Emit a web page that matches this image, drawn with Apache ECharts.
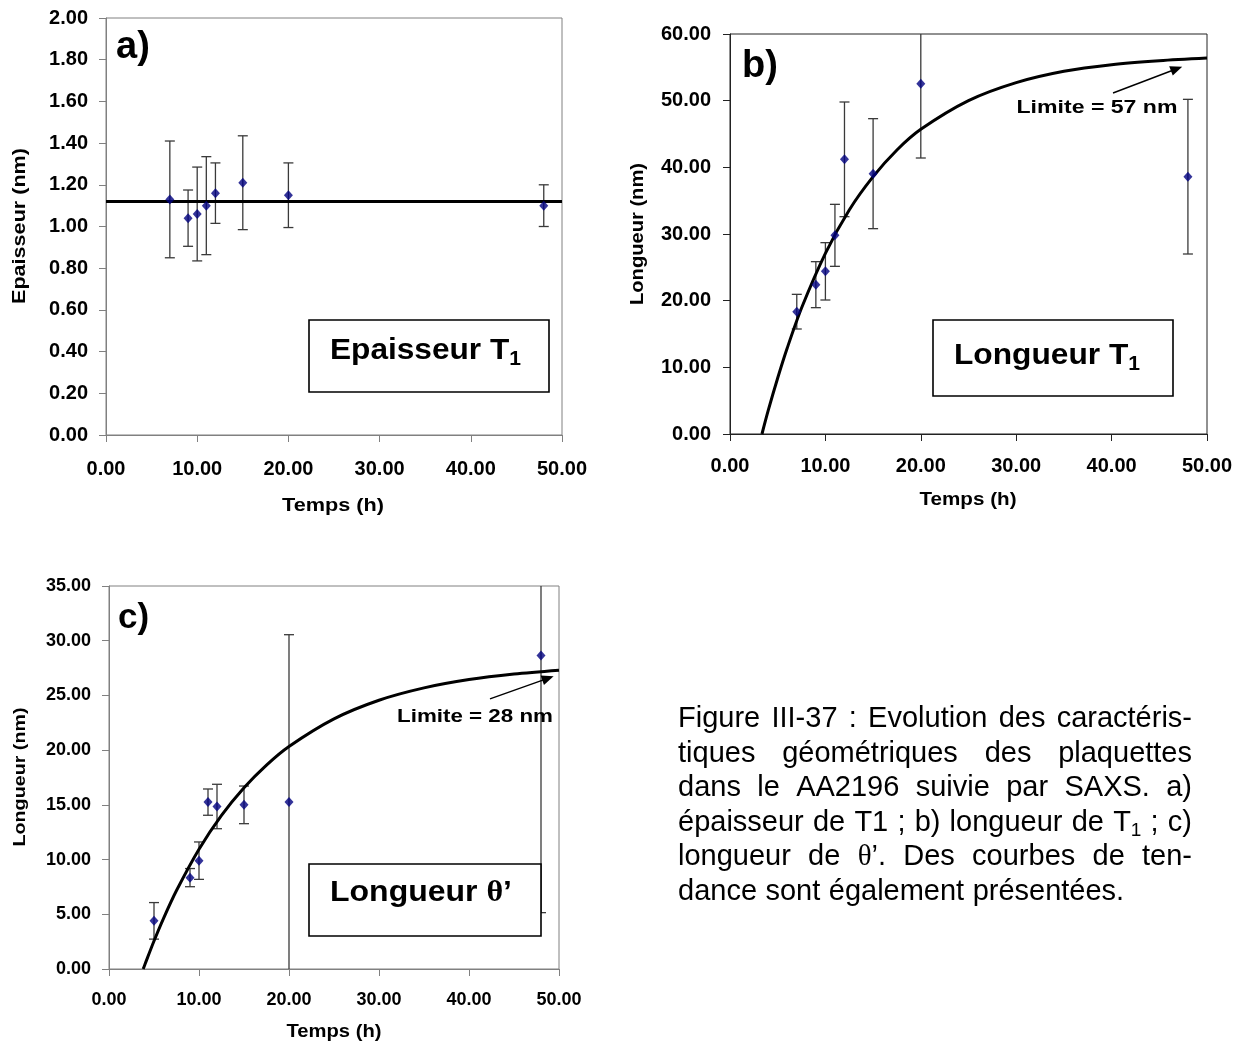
<!DOCTYPE html>
<html><head><meta charset="utf-8">
<script src="https://cdn.jsdelivr.net/npm/echarts@6/dist/echarts.min.js"></script>
<style>html,body{margin:0;padding:0;background:#fff}#c{width:1244px;height:1046px}</style>
</head><body><div id="c"></div>
<script>
// ---------- DATA ----------
const xTickMin = 0, xTickMax = 50, xTickStep = 10;

// a) Epaisseur T1
const timeA = [7, 9, 10, 11, 12, 15, 20, 48];
const epaisseurT1 = [1.13, 1.04, 1.06, 1.10, 1.16, 1.21, 1.15, 1.10];
const epaisseurErr = [0.28, 0.135, 0.225, 0.235, 0.145, 0.225, 0.155, 0.10];
const epaisseurMean = 1.12;

// b) Longueur T1
const timeB = [7, 9, 10, 11, 12, 15, 20, 48];
const longueurT1 = [18.35, 22.4, 24.4, 29.8, 41.2, 39.05, 52.55, 38.6];
const longueurT1Err = [2.6, 3.45, 4.3, 4.65, 8.6, 8.25, 11.15, 11.6];
const trendBx = [3.35, 4, 5, 6, 7.5, 10, 12.5, 15, 17.5, 20, 25, 30, 35, 40, 45, 50];
const trendBy = [0, 3.5, 8.4, 12.9, 18.9, 27.1, 33.6, 38.6, 42.6, 45.7, 50.0, 52.7, 54.4, 55.4, 56.0, 56.4];
const arrowB = [40.15, 51.15, 47.4, 55.1];

// c) Longueur theta'
const timeC = [5, 9, 10, 11, 12, 15, 20, 48];
const longueurTheta = [4.4, 8.35, 9.9, 15.25, 14.85, 15.0, 15.25, 28.65];
const longueurThetaErr = [1.67, 0.83, 1.71, 1.2, 2.03, 1.72, 15.3, 23.5];
const trendCx = [3.8, 4, 5, 6, 7.5, 10, 12.5, 15, 17.5, 20, 25, 30, 35, 40, 45, 50];
const trendCy = [0, 0.44, 2.56, 4.52, 7.17, 10.95, 14.04, 16.57, 18.64, 20.34, 22.86, 24.56, 25.69, 26.45, 26.96, 27.31];
const arrowC = [42.33, 24.68, 49.4, 26.75];

// ---------- HELPERS ----------
const FONT = '"Liberation Sans", Arial, sans-serif';
const SERIF = '"Liberation Serif", "Times New Roman", serif';
const mctx = document.createElement('canvas').getContext('2d');
function tw(text, size, weight, family) {
  mctx.font = (weight || 'normal') + ' ' + size + 'px ' + (family || FONT);
  return mctx.measureText(text).width;
}
function txt(o) {
  return {
    type: 'text', x: o.x, y: o.y, rotation: o.rot || 0, scaleX: o.sx || 1, z: 100, silent: true,
    style: {
      text: o.text, fill: '#000',
      font: (o.weight || 'normal') + ' ' + o.size + 'px ' + (o.family || FONT),
      align: o.align || 'left', verticalAlign: o.valign || 'middle',
      textAlign: o.align || 'left', textVerticalAlign: o.valign || 'middle'
    }
  };
}
function segs(word, size, weight) {
  const out = [];
  let i = 0;
  while (i < word.length) {
    const ch = word[i];
    if (ch === '_') { out.push({t: word[i + 1], size: Math.round(size * 0.66), weight, family: FONT, dy: size * 0.28}); i += 2; continue; }
    if (ch === 'θ') { out.push({t: 'θ', size, weight, family: SERIF, dy: 0}); i++; continue; }
    const last = out[out.length - 1];
    if (last && last.family === FONT && last.dy === 0 && last.size === size) last.t += ch;
    else out.push({t: ch, size, weight, family: FONT, dy: 0});
    i++;
  }
  out.forEach(s => s.w = tw(s.t, s.size, s.weight, s.family));
  return out;
}
function wordWidth(sg) { return sg.reduce((a, s) => a + s.w, 0); }
function placeSegs(sg, x, y, arr) {
  let cx = x;
  sg.forEach(s => { arr.push(txt({text: s.t, x: cx, y: y + s.dy, size: s.size, weight: s.weight, family: s.family})); cx += s.w; });
}
function fittedLabel(str, x0, y, size, weight, target) {
  const children = [];
  const sg = segs(str, size, weight);
  placeSegs(sg, 0, 0, children);
  const w = wordWidth(sg);
  return {type: 'group', x: x0, y: y, scaleX: target / w, z: 100, children};
}

// ---------- GRAPHICS (labels, boxes, caption) ----------
const g = [];
g.push(txt({text: 'a)', x: 116, y: 48, size: 38, weight: 'bold'}));
g.push(txt({text: 'b)', x: 742, y: 67, size: 38, weight: 'bold'}));
g.push(txt({text: 'c)', x: 118, y: 618, size: 35, weight: 'bold'}));

function title(text, cx, cy, size, len, rot) {
  const sx = len / tw(text, size, 'bold');
  return txt({text, x: cx, y: cy, size, weight: 'bold', align: 'center', valign: 'middle', rot: rot || 0, sx});
}
g.push(title('Temps (h)', 333, 506, 19, 102));
g.push(title('Temps (h)', 968, 500, 19, 97));
g.push(title('Temps (h)', 334, 1032, 18, 95));
g.push(title('Epaisseur (nm)', 20, 226, 19, 156, Math.PI / 2));
g.push(title('Longueur (nm)', 638, 234, 18, 142, Math.PI / 2));
g.push(title('Longueur (nm)', 20, 777, 17, 139, Math.PI / 2));

g.push(title('Limite = 57 nm', 1097, 108, 18, 161));
g.push(title('Limite = 28 nm', 475, 717, 18, 156));

const boxStyle = {stroke: '#000', lineWidth: 1.6, fill: '#fff'};
g.push({type: 'rect', shape: {x: 309, y: 320, width: 240, height: 72}, style: boxStyle, z: 90, silent: true});
g.push({type: 'rect', shape: {x: 933, y: 320, width: 240, height: 76}, style: boxStyle, z: 90, silent: true});
g.push({type: 'rect', shape: {x: 309, y: 864, width: 232, height: 72}, style: boxStyle, z: 90, silent: true});
g.push(fittedLabel('Epaisseur T_1', 330, 351, 30, 'bold', 191));
g.push(fittedLabel('Longueur T_1', 954, 356, 30, 'bold', 186));
g.push(fittedLabel('Longueur θ’', 330, 893, 30, 'bold', 182));

const capLines = [
  {words: ['Figure', 'III-37', ':', 'Evolution', 'des', 'caractéris-'], justify: true},
  {words: ['tiques', 'géométriques', 'des', 'plaquettes'], justify: true},
  {words: ['dans', 'le', 'AA2196', 'suivie', 'par', 'SAXS.', 'a)'], justify: true},
  {words: ['épaisseur', 'de', 'T1', ';', 'b)', 'longueur', 'de', 'T_1', ';', 'c)'], justify: true},
  {words: ['longueur', 'de', 'θ’.', 'Des', 'courbes', 'de', 'ten-'], justify: true},
  {words: ['dance', 'sont', 'également', 'présentées.'], justify: false}
];
const CAP_X0 = 678, CAP_X1 = 1192, CAP_Y0 = 719, CAP_DY = 34.5, CAP_SIZE = 29;
capLines.forEach((ln, li) => {
  const y = CAP_Y0 + li * CAP_DY;
  const sgs = ln.words.map(w => segs(w, CAP_SIZE, 'normal'));
  const widths = sgs.map(wordWidth);
  const total = widths.reduce((a, b) => a + b, 0);
  const space = tw(' ', CAP_SIZE, 'normal');
  const gap = ln.justify ? (CAP_X1 - CAP_X0 - total) / (sgs.length - 1) : space * 1.05;
  let x = CAP_X0;
  sgs.forEach((sg, i) => { placeSegs(sg, x, y, g); x += widths[i] + gap; });
});

// ---------- CHART ----------
function xAx(gi, color, size, margin) {
  return {
    type: 'value', gridIndex: gi, min: xTickMin, max: xTickMax, interval: xTickStep,
    axisLine: {show: true, onZero: false, lineStyle: {color, width: 1}},
    axisTick: {show: true, inside: false, length: 7, lineStyle: {color, width: 1}},
    axisLabel: {formatter: v => v.toFixed(2), fontSize: size, fontWeight: 'bold', fontFamily: FONT, color: '#000', margin},
    splitLine: {show: false}
  };
}
function yAx(gi, max, step, color, size, margin) {
  return {
    type: 'value', gridIndex: gi, min: 0, max, interval: step,
    axisLine: {show: true, onZero: false, lineStyle: {color, width: 1}},
    axisTick: {show: true, inside: false, length: 7, lineStyle: {color, width: 1}},
    axisLabel: {formatter: v => v.toFixed(2), fontSize: size, fontWeight: 'bold', fontFamily: FONT, color: '#000', margin},
    splitLine: {show: false}
  };
}
function errRender(ymax) {
  return function (params, api) {
    const x = api.value(0), y = api.value(1), e = api.value(2);
    let hi = y + e, lo = y - e;
    const capHi = hi <= ymax, capLo = lo >= 0;
    hi = Math.min(hi, ymax); lo = Math.max(lo, 0);
    const pHi = api.coord([x, hi]), pLo = api.coord([x, lo]);
    const st = {stroke: '#3a3a3a', lineWidth: 1.3};
    const w = 5;
    const ch = [{type: 'line', shape: {x1: pHi[0], y1: pHi[1], x2: pLo[0], y2: pLo[1]}, style: st}];
    if (capHi) ch.push({type: 'line', shape: {x1: pHi[0] - w, y1: pHi[1], x2: pHi[0] + w, y2: pHi[1]}, style: st});
    if (capLo) ch.push({type: 'line', shape: {x1: pLo[0] - w, y1: pLo[1], x2: pLo[0] + w, y2: pLo[1]}, style: st});
    return {type: 'group', children: ch};
  };
}
function errSeries(gi, xs, ys, es, ymax) {
  return {type: 'custom', xAxisIndex: gi, yAxisIndex: gi, renderItem: errRender(ymax), z: 2, silent: true,
    encode: {x: 0, y: 1}, data: xs.map((t, i) => [t, ys[i], es[i]])};
}
function arrowRender(params, api) {
  const p1 = api.coord([api.value(0), api.value(1)]);
  const p2 = api.coord([api.value(2), api.value(3)]);
  const dx = p2[0] - p1[0], dy = p2[1] - p1[1];
  const L = Math.sqrt(dx * dx + dy * dy), ux = dx / L, uy = dy / L;
  const hl = 12, hw = 5;
  const bx = p2[0] - ux * hl, by = p2[1] - uy * hl;
  return {type: 'group', children: [
    {type: 'line', shape: {x1: p1[0], y1: p1[1], x2: bx + ux * 2, y2: by + uy * 2}, style: {stroke: '#000', lineWidth: 1.4}},
    {type: 'polygon', shape: {points: [[p2[0], p2[1]], [bx - uy * hw, by + ux * hw], [bx + uy * hw, by - ux * hw]]}, style: {fill: '#000'}}
  ]};
}
function arrowSeries(gi, a) {
  return {type: 'custom', xAxisIndex: gi, yAxisIndex: gi, renderItem: arrowRender, z: 6, silent: true,
    encode: {x: [0, 2], y: [1, 3]}, data: [a]};
}
function pts(gi, xs, ys) {
  return {type: 'scatter', xAxisIndex: gi, yAxisIndex: gi, symbol: 'diamond', symbolSize: [9, 10], z: 5, silent: true,
    itemStyle: {color: '#000080'}, data: xs.map((t, i) => [t, ys[i]])};
}
function trend(gi, xs, ys) {
  return {type: 'line', xAxisIndex: gi, yAxisIndex: gi, smooth: 0.3, showSymbol: false, z: 4, silent: true,
    lineStyle: {color: '#000', width: 3}, data: xs.map((t, i) => [t, ys[i]])};
}

const chart = echarts.init(document.getElementById('c'), null, {renderer: 'canvas'});
chart.setOption({
  animation: false,
  backgroundColor: '#fff',
  grid: [
    {left: 106, top: 18, width: 456, height: 417, show: true, borderColor: '#808080', borderWidth: 1, backgroundColor: 'transparent', containLabel: false, outerBoundsMode: 'none'},
    {left: 730, top: 34, width: 477, height: 400, show: true, borderColor: '#222', borderWidth: 1, backgroundColor: 'transparent', containLabel: false, outerBoundsMode: 'none'},
    {left: 109, top: 586, width: 450, height: 383, show: true, borderColor: '#808080', borderWidth: 1, backgroundColor: 'transparent', containLabel: false, outerBoundsMode: 'none'}
  ],
  xAxis: [xAx(0, '#808080', 20, 24), xAx(1, '#222', 20, 22), xAx(2, '#808080', 18, 22)],
  yAxis: [yAx(0, 2, 0.2, '#808080', 20, 18), yAx(1, 60, 10, '#222', 20, 19), yAx(2, 35, 5, '#808080', 18, 18)],
  series: [
    errSeries(0, timeA, epaisseurT1, epaisseurErr, 2),
    {type: 'line', xAxisIndex: 0, yAxisIndex: 0, showSymbol: false, z: 4, silent: true,
      lineStyle: {color: '#000', width: 3}, data: [[xTickMin, epaisseurMean], [xTickMax, epaisseurMean]]},
    pts(0, timeA, epaisseurT1),

    errSeries(1, timeB, longueurT1, longueurT1Err, 60),
    trend(1, trendBx, trendBy),
    arrowSeries(1, arrowB),
    pts(1, timeB, longueurT1),

    errSeries(2, timeC, longueurTheta, longueurThetaErr, 35),
    trend(2, trendCx, trendCy),
    arrowSeries(2, arrowC),
    pts(2, timeC, longueurTheta)
  ],
  graphic: {elements: g}
});
</script>
</body></html>
